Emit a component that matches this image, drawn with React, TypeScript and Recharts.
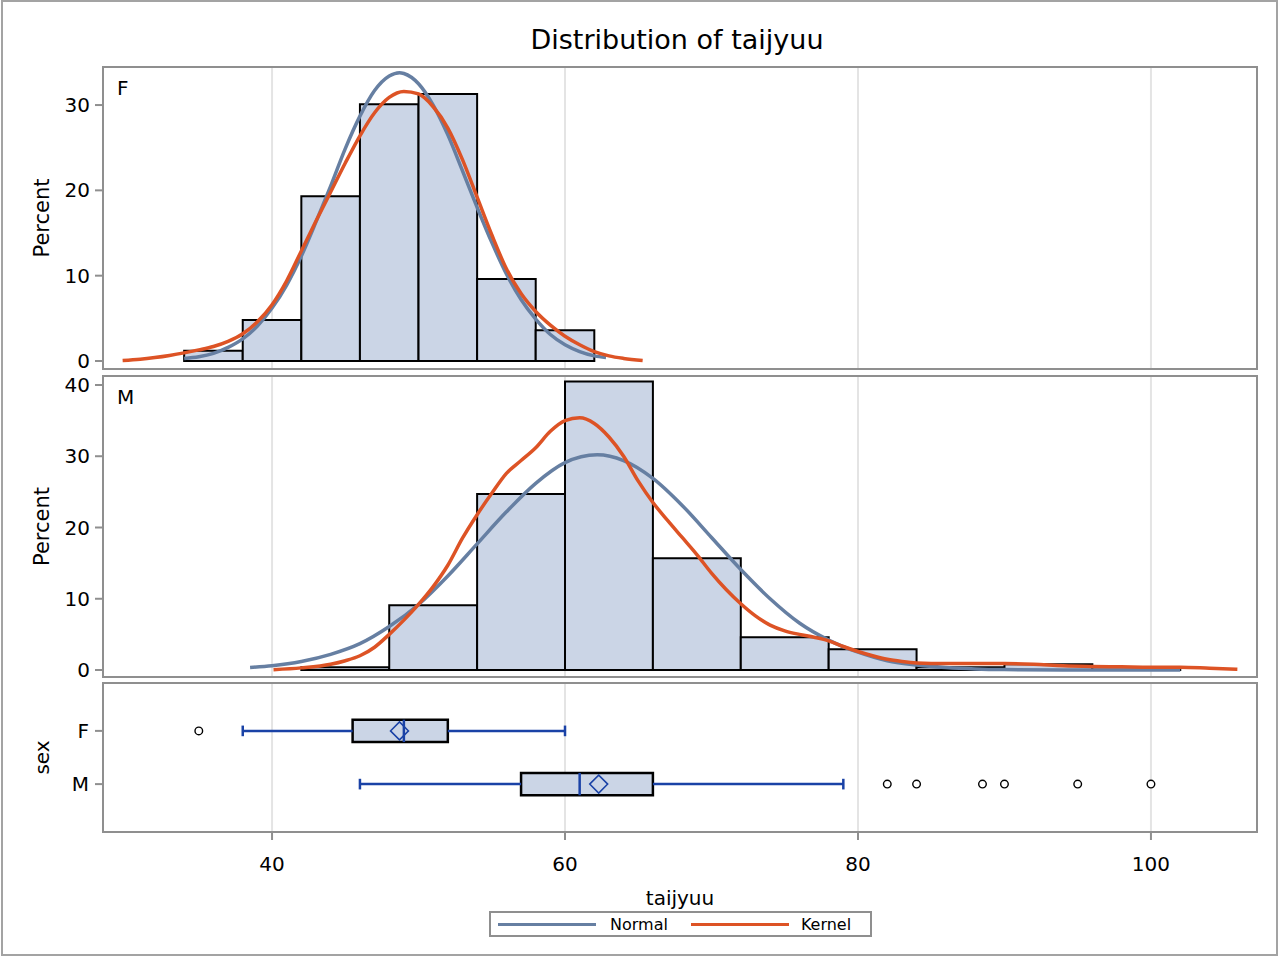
import React from "react";
import {
  ComposedChart,
  Line,
  XAxis,
  YAxis,
  ReferenceArea,
  ReferenceLine,
  Scatter,
  Label,
} from "recharts";

// ---- data ----

// female histogram: bin starts (width 4) and percents
const fBinStarts = [34, 38, 42, 46, 50, 54, 58];
const fBinWidth = 4;
const fPercents = [1.2, 4.8, 19.3, 30.1, 31.3, 9.6, 3.6];

// male histogram: bin starts (width 6) and percents
const mBinStarts = [42, 48, 54, 60, 66, 72, 78, 84, 90, 96];
const mBinWidth = 6;
const mPercents = [0.4, 9.1, 24.7, 40.5, 15.7, 4.6, 2.9, 0.4, 0.8, 0.4];

// fitted curves, [taijyuu, percent]
const fNormal = [
  [34, 0.3], [35, 0.5], [36, 0.9], [37, 1.6], [38, 2.6], [39, 4.1], [40, 6.2],
  [41, 8.9], [42, 12.3], [43, 16.3], [44, 20.5], [45, 24.9], [46, 28.7],
  [47, 31.7], [48, 33.4], [48.7, 33.8], [49, 33.7], [50, 32.5], [51, 30.0],
  [52, 26.5], [53, 22.3], [54, 18.0], [55, 13.9], [56, 10.2], [57, 7.2],
  [58, 4.9], [59, 3.1], [60, 1.9], [61, 1.1], [62, 0.6], [62.8, 0.4],
];
const fKernel = [
  [29.8, 0.05], [31, 0.2], [32, 0.4], [33, 0.65], [34, 0.95], [35, 1.3],
  [36, 1.7], [37, 2.3], [38, 3.2], [39, 4.6], [40, 6.6], [41, 9.4],
  [42, 12.9], [43, 16.4], [44, 19.8], [45, 23.2], [46, 26.4], [47, 29.1],
  [48, 30.9], [49, 31.6], [50, 31.3], [51, 29.8], [52, 27.3], [53, 23.6],
  [54, 19.2], [55, 14.8], [56, 10.8], [57, 7.9], [58, 5.8], [59, 4.2],
  [60, 2.9], [61, 1.9], [62, 1.1], [63, 0.6], [64, 0.3], [65.3, 0.05],
];
const mNormal = [
  [38.5, 0.35], [40, 0.6], [42, 1.2], [44, 2.2], [46, 3.7], [48, 6.1],
  [50, 9.2], [52, 13.2], [54, 17.7], [56, 22.2], [58, 26.2], [60, 29.1],
  [62.2, 30.2], [64, 29.4], [66, 26.9], [68, 23.1], [70, 18.6], [72, 14.1],
  [74, 10.0], [76, 6.6], [78, 4.2], [80, 2.5], [82, 1.3], [84, 0.7],
  [86, 0.35], [88, 0.15], [90, 0.06], [94, 0.01], [98, 0], [102, 0],
];
const mKernel = [
  [40.1, 0.05], [42, 0.3], [44, 0.8], [45, 1.3], [46, 2.0], [47, 3.2],
  [48, 5.0], [49, 7.0], [50, 9.2], [51, 11.7], [52, 14.7], [53, 18.5],
  [54, 21.8], [55, 24.8], [56, 27.6], [57, 29.4], [58, 31.2], [59, 33.5],
  [60, 35.0], [61, 35.4], [62, 34.6], [63, 32.7], [64, 30.0], [65, 26.5],
  [66, 23.5], [67, 21.0], [68, 18.6], [69, 16.2], [70, 13.6], [71, 11.3],
  [72, 9.3], [73, 7.6], [74, 6.3], [75, 5.5], [76, 5.0], [77, 4.6],
  [78, 4.1], [79, 3.3], [80, 2.6], [81, 2.0], [82, 1.5], [83, 1.2],
  [84, 1.0], [86, 0.9], [88, 0.9], [90, 0.9], [92, 0.8], [94, 0.6],
  [96, 0.5], [98, 0.45], [100, 0.4], [102, 0.4], [104, 0.25], [105.9, 0.1],
];

// box plot by sex
const sexGroups = ["F", "M"];
const whiskerLow = [38, 46];
const boxQ1 = [45.5, 57];
const boxMedian = [49, 61];
const boxQ3 = [52, 66];
const whiskerHigh = [60, 79];
const boxMean = [48.7, 62.3];
const outliers = [[35], [82, 84, 88.5, 90, 95, 100]];

const xTicks = [40, 60, 80, 100];
const fTicks = [0, 10, 20, 30];
const mTicks = [0, 10, 20, 30, 40];

// ---- styling ----
const FONT = "'DejaVu Sans', sans-serif";
const W = 1280;
const H = 958;
const X_DOMAIN: [number, number] = [28.46, 107.24];
const FRAME = "#8f8f8f";
const GRID = "#e4e4e4";
const BAR_FILL = "#cbd5e6";
const NORMAL_COLOR = "#667fa2";
const KERNEL_COLOR = "#dd5325";
const BOX_BLUE = "#1a42a6";

const toPoints = (pairs: number[][]) => pairs.map(([x, y]) => ({ x, y }));

const tickStyle = { fill: "#000", fontSize: 20, fontFamily: FONT };

interface HistPanelProps {
  top: number;
  bottom: number;
  name: string;
  yDomain: [number, number];
  yTicks: number[];
  starts: number[];
  binWidth: number;
  percents: number[];
  normal: number[][];
  kernel: number[][];
}

const HistPanel: React.FC<HistPanelProps> = ({
  top, bottom, name, yDomain, yTicks, starts, binWidth, percents, normal, kernel,
}) => (
  <div style={{ position: "absolute", left: 0, top: 0 }}>
    <ComposedChart
      width={W}
      height={H}
      margin={{ top, bottom: H - bottom, left: 0, right: 23 }}
    >
      <XAxis type="number" dataKey="x" domain={X_DOMAIN} allowDataOverflow hide />
      <YAxis
        type="number"
        width={103}
        domain={yDomain}
        ticks={yTicks}
        interval={0}
        allowDataOverflow
        axisLine={false}
        tickLine={{ stroke: FRAME, strokeWidth: 2 }}
        tickSize={8}
        tickMargin={5}
        tick={tickStyle}
      >
        <Label
          value="Percent"
          angle={-90}
          position="insideLeft"
          offset={42}
          style={{ textAnchor: "middle", fontSize: 21, fill: "#000", fontFamily: FONT }}
        />
      </YAxis>
      {xTicks.map((v) => (
        <ReferenceLine key={v} x={v} stroke={GRID} strokeWidth={2} zIndex={-100} />
      ))}
      {starts.map((s, i) => (
        <ReferenceArea
          key={s}
          x1={s}
          x2={s + binWidth}
          y1={0}
          y2={percents[i]}
          fill={BAR_FILL}
          fillOpacity={1}
          stroke="#000"
          strokeWidth={2}
          strokeOpacity={1}
          zIndex={100}
        />
      ))}
      <Line
        data={toPoints(normal)}
        dataKey="y"
        type="monotone"
        stroke={NORMAL_COLOR}
        strokeWidth={3.5}
        dot={false}
        activeDot={false}
        isAnimationActive={false}
      />
      <Line
        data={toPoints(kernel)}
        dataKey="y"
        type="monotone"
        stroke={KERNEL_COLOR}
        strokeWidth={3.5}
        dot={false}
        activeDot={false}
        isAnimationActive={false}
      />
      <ReferenceArea
        x1={X_DOMAIN[0]}
        x2={X_DOMAIN[1]}
        y1={yDomain[0]}
        y2={yDomain[1]}
        fill="none"
        fillOpacity={0}
        stroke={FRAME}
        strokeWidth={2}
        strokeOpacity={1}
        zIndex={700}
        label={{
          value: name,
          position: "insideTopLeft",
          offset: 14,
          fill: "#000",
          fontSize: 20,
          fontFamily: FONT,
        }}
      />
    </ComposedChart>
  </div>
);

const Diamond = (props: any) => {
  const { cx, cy } = props;
  const r = 9;
  return (
    <polygon
      points={`${cx},${cy - r} ${cx + r},${cy} ${cx},${cy + r} ${cx - r},${cy}`}
      fill="none"
      stroke={BOX_BLUE}
      strokeWidth={1.5}
    />
  );
};

const Outlier = (props: any) => (
  <circle cx={props.cx} cy={props.cy} r={3.8} fill="#fff" stroke="#000" strokeWidth={1.4} />
);

const BOX_Y_DOMAIN: [number, number] = [0.1, 2.9];

const BoxPanel: React.FC = () => {
  const means = sexGroups.map((_, i) => ({ x: boxMean[i], y: i + 1 }));
  const outPts = outliers.flatMap((vals, i) => vals.map((x) => ({ x, y: i + 1 })));
  return (
    <div style={{ position: "absolute", left: 0, top: 0 }}>
      <ComposedChart
        width={W}
        height={H}
        margin={{ top: 683, bottom: H - 832 - 80, left: 0, right: 23 }}
      >
        <XAxis
          type="number"
          dataKey="x"
          domain={X_DOMAIN}
          allowDataOverflow
          ticks={xTicks}
          interval={0}
          height={80}
          axisLine={false}
          tickLine={{ stroke: FRAME, strokeWidth: 2 }}
          tickSize={8}
          tickMargin={17}
          tick={tickStyle}
        >
          <Label
            value="taijyuu"
            position="insideBottom"
            offset={7}
            style={{ fontSize: 20, fill: "#000", fontFamily: FONT }}
          />
        </XAxis>
        <YAxis
          type="number"
          dataKey="y"
          width={103}
          domain={BOX_Y_DOMAIN}
          reversed
          ticks={[1, 2]}
          interval={0}
          allowDataOverflow
          tickFormatter={(v: number) => sexGroups[v - 1]}
          axisLine={false}
          tickLine={{ stroke: FRAME, strokeWidth: 2 }}
          tickSize={8}
          tickMargin={6}
          tick={tickStyle}
        >
          <Label
            value="sex"
            angle={-90}
            position="insideLeft"
            offset={42}
            style={{ textAnchor: "middle", fontSize: 20, fill: "#000", fontFamily: FONT }}
          />
        </YAxis>
        {xTicks.map((v) => (
          <ReferenceLine key={v} x={v} stroke={GRID} strokeWidth={2} zIndex={-100} />
        ))}
        {sexGroups.map((g, i) => {
          const y = i + 1;
          return (
            <React.Fragment key={g}>
              <ReferenceLine
                segment={[{ x: whiskerLow[i], y }, { x: boxQ1[i], y }]}
                stroke={BOX_BLUE}
                strokeWidth={2.5}
              />
              <ReferenceLine
                segment={[{ x: boxQ3[i], y }, { x: whiskerHigh[i], y }]}
                stroke={BOX_BLUE}
                strokeWidth={2.5}
              />
              <ReferenceLine
                segment={[{ x: whiskerLow[i], y: y - 0.1 }, { x: whiskerLow[i], y: y + 0.1 }]}
                stroke={BOX_BLUE}
                strokeWidth={2.5}
              />
              <ReferenceLine
                segment={[{ x: whiskerHigh[i], y: y - 0.1 }, { x: whiskerHigh[i], y: y + 0.1 }]}
                stroke={BOX_BLUE}
                strokeWidth={2.5}
              />
              <ReferenceArea
                x1={boxQ1[i]}
                x2={boxQ3[i]}
                y1={y - 0.21}
                y2={y + 0.21}
                fill={BAR_FILL}
                fillOpacity={1}
                stroke="#000"
                strokeWidth={2.5}
                strokeOpacity={1}
                zIndex={300}
              />
              <ReferenceLine
                segment={[{ x: boxMedian[i], y: y - 0.21 }, { x: boxMedian[i], y: y + 0.21 }]}
                stroke={BOX_BLUE}
                strokeWidth={2.5}
                zIndex={450}
              />
            </React.Fragment>
          );
        })}
        <Scatter data={means} shape={<Diamond />} isAnimationActive={false} />
        <Scatter data={outPts} shape={<Outlier />} isAnimationActive={false} />
        <ReferenceArea
          x1={X_DOMAIN[0]}
          x2={X_DOMAIN[1]}
          y1={BOX_Y_DOMAIN[0]}
          y2={BOX_Y_DOMAIN[1]}
          fill="none"
          fillOpacity={0}
          stroke={FRAME}
          strokeWidth={2}
          strokeOpacity={1}
          zIndex={700}
        />
      </ComposedChart>
    </div>
  );
};

const LegendBox: React.FC = () => (
  <div
    style={{
      position: "absolute",
      left: 489,
      top: 911,
      width: 383,
      height: 26,
      boxSizing: "border-box",
      border: `2px solid ${FRAME}`,
      display: "flex",
      alignItems: "center",
      fontFamily: FONT,
      fontSize: 16,
      color: "#000",
      background: "#fff",
    }}
  >
    <span style={{ marginLeft: 7, width: 98, height: 3, background: NORMAL_COLOR }} />
    <span style={{ marginLeft: 14 }}>Normal</span>
    <span style={{ marginLeft: 23, width: 98, height: 3, background: KERNEL_COLOR }} />
    <span style={{ marginLeft: 12 }}>Kernel</span>
  </div>
);

export default function App() {
  return (
    <div
      style={{
        position: "absolute",
        left: 0,
        top: 0,
        width: W,
        height: H,
        background: "#fff",
        overflow: "hidden",
      }}
    >
      <div
        style={{
          position: "absolute",
          left: 1,
          top: 0,
          width: 1277,
          height: 956,
          boxSizing: "border-box",
          border: "2px solid #a3a3a3",
        }}
      />
      <div
        style={{
          position: "absolute",
          left: 100,
          top: 24,
          width: 1154,
          textAlign: "center",
          fontFamily: FONT,
          fontSize: 27,
          lineHeight: "32px",
          color: "#000",
        }}
      >
        Distribution of taijyuu
      </div>
      <HistPanel
        top={67}
        bottom={369}
        name="F"
        yDomain={[-0.94, 34.46]}
        yTicks={fTicks}
        starts={fBinStarts}
        binWidth={fBinWidth}
        percents={fPercents}
        normal={fNormal}
        kernel={fKernel}
      />
      <HistPanel
        top={376}
        bottom={677}
        name="M"
        yDomain={[-0.98, 41.26]}
        yTicks={mTicks}
        starts={mBinStarts}
        binWidth={mBinWidth}
        percents={mPercents}
        normal={mNormal}
        kernel={mKernel}
      />
      <BoxPanel />
      <LegendBox />
    </div>
  );
}
